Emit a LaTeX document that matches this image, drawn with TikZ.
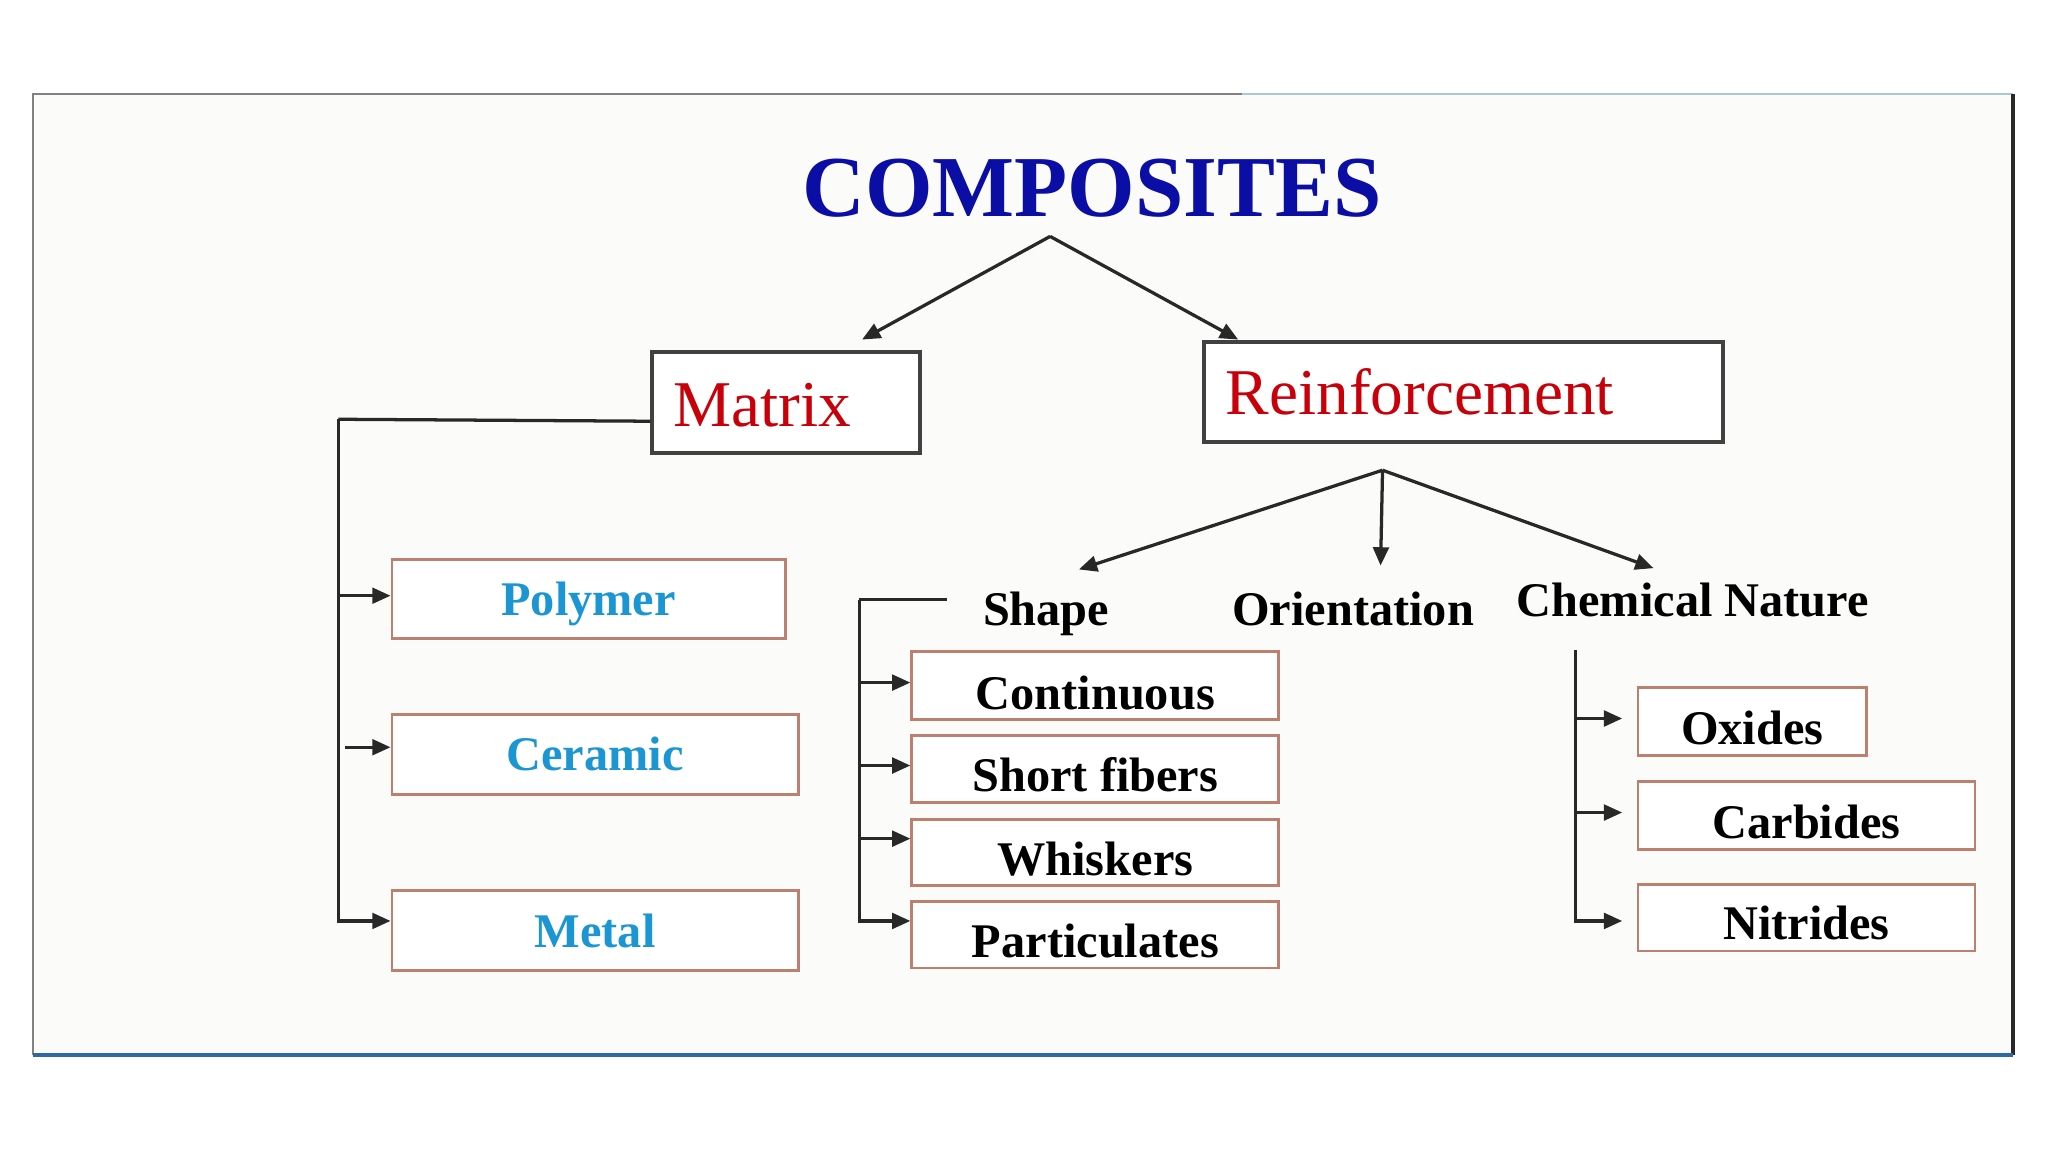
\documentclass[tikz,border=0pt]{standalone}
\usepackage{fontspec}
\setmainfont{Liberation Serif}
\usetikzlibrary{arrows.meta,calc}
\definecolor{titleblue}{RGB}{10,14,165}
\definecolor{matred}{RGB}{200,0,10}
\definecolor{cyanblue}{RGB}{28,150,210}
\definecolor{boxbrown}{RGB}{190,128,110}
\definecolor{linegray}{RGB}{40,40,40}
\definecolor{mainedge}{RGB}{65,65,65}
\definecolor{framegray}{RGB}{130,130,130}
\definecolor{framelight}{RGB}{170,200,215}
\definecolor{frameblue}{RGB}{45,105,165}
\definecolor{panel}{RGB}{251,251,250}
\begin{document}
\begin{tikzpicture}[x=1pt,y=-1pt,
  conn/.style={draw=linegray,line width=2.5pt},
  arr/.style={conn,-{Triangle[length=14pt,width=12pt]}},
  mainbox/.style={draw=mainedge,fill=white,line width=3pt,inner sep=0pt,anchor=north west,
    font=\fontsize{50}{50}\selectfont,text=matred,align=left},
  subbox/.style={draw=boxbrown,fill=white,line width=2.2pt,inner sep=0pt,anchor=north west,
    font=\bfseries\fontsize{37}{37}\selectfont,text=black},
  lbl/.style={font=\bfseries\fontsize{37}{37}\selectfont,inner sep=0pt,anchor=base,text=black}
]
\useasboundingbox (0,0) rectangle (1568,882);
\fill[white] (0,0) rectangle (1568,882);
\fill[panel] (25,72) rectangle (1541,808);
\draw[framegray,line width=1.5pt] (25,808) -- (25,72) -- (951,72);
\draw[framelight,line width=1.5pt] (951,72) -- (1541,72);
\draw[linegray,line width=3pt] (1541,72) -- (1541,808);
\draw[frameblue,line width=3pt] (25,808) -- (1541,808);

% title
\node[font=\bfseries\fontsize{66.5}{66.5}\selectfont,text=titleblue,anchor=base,inner sep=0pt] (title) at (836,166) {COMPOSITES};

% main boxes
\node[mainbox,text width=173pt,inner xsep=16pt,text height=57pt,text depth=20pt] (matrix) at (498,268) {Matrix};
\node[mainbox,text width=364pt,inner xsep=17pt,text height=56pt,text depth=21pt] (reinf) at (920,260) {Reinforcement};

% matrix children
\node[subbox,text=cyanblue,minimum width=301pt,text height=43pt,text depth=18pt] (polymer) at (299,427) {Polymer};
\node[subbox,text=cyanblue,minimum width=311pt,text height=43pt,text depth=18pt] (ceramic) at (299,546) {Ceramic};
\node[subbox,text=cyanblue,minimum width=311pt,text height=43pt,text depth=18pt] (metal) at (299,681) {Metal};

% reinforcement categories
\node[lbl] (shape) at (801,479) {Shape};
\node[lbl] (orient) at (1036,479) {Orientation};
\node[lbl] (chem) at (1296,472) {Chemical Nature};

% shape children
\node[subbox,minimum width=281pt,text height=44pt,text depth=8pt] (contin) at (697,498) {Continuous};
\node[subbox,minimum width=281pt,text height=43pt,text depth=8pt] (short) at (697,562) {Short fibers};
\node[subbox,minimum width=281pt,text height=43pt,text depth=8pt] (whisk) at (697,626) {Whiskers};
\node[subbox,minimum width=281pt,text height=43pt,text depth=8pt] (partic) at (697,689) {Particulates};

% chemical children
\node[subbox,minimum width=175pt,text height=44pt,text depth=8pt] (oxides) at (1253,525) {Oxides};
\node[subbox,minimum width=258pt,text height=44pt,text depth=8pt] (carbides) at (1253,597) {Carbides};
\node[subbox,minimum width=258pt,text height=42pt,text depth=9pt] (nitrides) at (1253,676) {Nitrides};

% title arrows
\coordinate (apexT) at ($(title.base)+(-32,15)$);
\draw[arr] (apexT) -- ($(matrix.north west)+(162,-8)$);
\draw[arr] (apexT) -- ($(reinf.north west)+(28,0)$);

% reinforcement arrows
\coordinate (apexR) at ($(reinf.south)+(-62,20)$);
\draw[arr] (apexR) -- ($(shape.base)+(25,-43)$);
\draw[arr] (apexR) -- ($(orient.base)+(21,-46)$);
\draw[arr] (apexR) -- ($(chem.base)+(-30,-37)$);

% matrix bracket
\coordinate (mtrunk) at (259,321);
\coordinate (polin) at ($(polymer.west)+(0,-2.5)$);
\coordinate (cerin) at ($(ceramic.west)+(0,-5.5)$);
\coordinate (metin) at ($(metal.west)+(0,-7.5)$);
\draw[conn] ([yshift=-14.5pt]matrix.west) -- (mtrunk);
\draw[arr] (mtrunk) |- (metin);
\draw[arr] (mtrunk |- polin) -- (polin);
\draw[arr] ($(mtrunk |- cerin)+(5,0)$) -- (cerin);

% shape bracket
\coordinate (strunk) at ($(shape.base)+(-143,-20)$);
\coordinate (continin) at ($(contin.west)+(0,-2.5)$);
\coordinate (shortin) at ($(short.west)+(0,-2.5)$);
\coordinate (whiskin) at ($(whisk.west)+(0,-10.5)$);
\coordinate (particin) at ($(partic.west)+(0,-10.5)$);
\draw[conn] ($(shape.base)+(-76,-20)$) -- (strunk);
\draw[arr] (strunk) |- (particin);
\draw[arr] (strunk |- continin) -- (continin);
\draw[arr] (strunk |- shortin) -- (shortin);
\draw[arr] (strunk |- whiskin) -- (whiskin);

% chemical bracket
\coordinate (ctrunk) at (1206,498);
\coordinate (oxin) at ($(oxides.west)+(0,-2)$);
\coordinate (carbin) at ($(carbides.west)+(0,-2)$);
\coordinate (nitin) at ($(nitrides.west)+(0,2.5)$);
\draw[arr,shorten >=11pt] (ctrunk) |- (nitin);
\draw[arr,shorten >=11pt] (ctrunk |- oxin) -- (oxin);
\draw[arr,shorten >=11pt] (ctrunk |- carbin) -- (carbin);
\end{tikzpicture}
\end{document}
